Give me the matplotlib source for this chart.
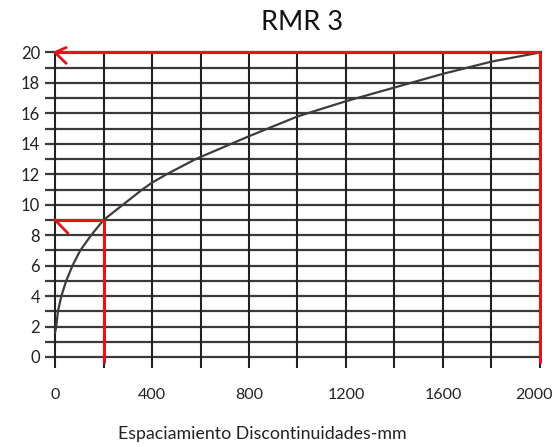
import matplotlib.pyplot as plt
from matplotlib.transforms import ScaledTranslation

# curve
espaciamiento = [0, 5, 12, 26, 46, 72, 104, 149, 200, 280, 360, 400, 460,
                 580, 800, 1000, 1200, 1400, 1600, 1800, 2000]
valoracion = [1.6, 2.0, 3.0, 4.0, 5.0, 6.0, 7.0, 8.0, 9.0, 10.0, 11.0,
              11.45, 12.0, 13.0, 14.5, 15.8, 16.8, 17.7, 18.6, 19.4, 20.0]

x_grid = list(range(0, 2001, 200))
y_grid = list(range(0, 21))
x_ticks = [0, 400, 800, 1200, 1600, 2000]
y_ticks = list(range(0, 21, 2))

# reading examples marked in red
ejemplo_x = [200, 2000]
ejemplo_y = [9, 20]

plt.rcParams['font.family'] = ['Lato', 'DejaVu Sans']

fig = plt.figure(figsize=(5.55, 4.47), dpi=100)
ax = fig.add_axes([0.0795, 0.1758, 0.9043, 0.7238])
ax.set_xlim(-45, 2025)
ax.set_ylim(-0.75, 20.5)
for s in ax.spines.values():
    s.set_visible(False)

ax.hlines(y_grid, -41, 2010, color='#3a3a3a', lw=1.6, zorder=1)
ax.vlines(x_grid, -0.75, 20, color='#222222', lw=1.5, zorder=1)

ax.plot(espaciamiento, valoracion, color='#3c3c3c', lw=1.6, zorder=2)

red = '#e3151a'
for ex, ey in zip(ejemplo_x, ejemplo_y):
    ax.plot([ex, ex], [-0.4, ey], color=red, lw=2.2, zorder=3,
            solid_capstyle='butt')
    ax.plot([ex, 0], [ey, ey], color=red, lw=2.2, zorder=3,
            solid_capstyle='butt')
# arrow heads
ax.plot([45, 0, 45], [20.32, 20, 19.3], color=red, lw=2.0, zorder=3)
ax.plot([0, 52], [9, 8.15], color=red, lw=2.0, zorder=3)

ax.set_xticks(x_ticks)
ax.set_yticks(y_ticks)
ax.tick_params(axis='x', length=0, pad=14, labelsize=11.5, labelcolor='#222222')
ax.tick_params(axis='y', length=0, pad=3, labelsize=12, labelcolor='#222222')
# keep the last label inside the picture
last = ax.get_xticklabels()[-1]
last.set_transform(last.get_transform() +
                   ScaledTranslation(-4 / 72, 0, fig.dpi_scale_trans))

fig.text(0.544, 0.95, 'RMR 3', ha='center', va='center', fontsize=19.5,
         color='#111111')
fig.text(0.472, 0.028, 'Espaciamiento Discontinuidades-mm', ha='center',
         va='center', fontsize=12.8, color='#222222')

fig.savefig('out.png', dpi=100)
